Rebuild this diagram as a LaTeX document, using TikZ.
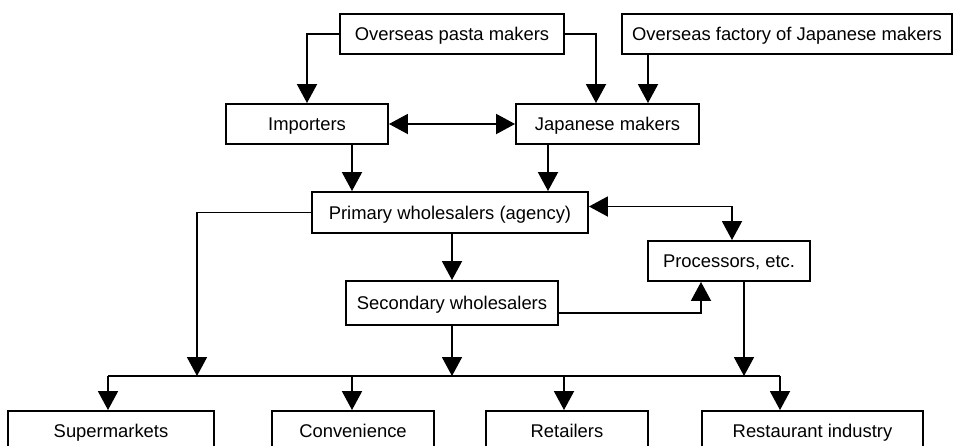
\documentclass[tikz,border=0pt]{standalone}
\usepackage{fontspec}
\setmainfont{Liberation Sans}
\usetikzlibrary{arrows.meta}
\tikzset{box/.style={draw, line width=1.9pt, minimum height=40pt, inner sep=0pt, text height=13.2pt, text depth=0pt, font=\fontsize{18.4}{22}\selectfont},
  arr/.style={line width=1.9pt, -{Triangle[width=20pt,length=19pt]}},
  darr/.style={line width=1.9pt, {Triangle[width=20pt,length=19pt]}-{Triangle[width=20pt,length=19pt]}}}
\begin{document}
\begin{tikzpicture}[x=1pt, y=-1pt]
        \useasboundingbox (0,0) rectangle (954,445);
        % boxes
        \node[box, minimum width=224pt] (pasta) at (452,34) {Overseas pasta makers};
        \node[box, minimum width=330pt] (fac) at (787,34) {Overseas factory of Japanese makers};
        \node[box, minimum width=162pt] (imp) at (307,124) {Importers};
        \node[box, minimum width=183pt] (jap) at (607.5,124) {Japanese makers};
        \node[box, minimum width=276pt, minimum height=41pt] (prim) at (450,212.5) {Primary wholesalers (agency)};
        \node[box, minimum width=162pt] (proc) at (729,261) {Processors, etc.};
        \node[box, minimum width=212pt, minimum height=44pt] (sec) at (452,303) {Secondary wholesalers};
        \node[box, minimum width=206pt] (sup) at (111,431) {Supermarkets};
        \node[box, minimum width=162pt] (conv) at (353,431) {Convenience};
        \node[box, minimum width=162pt] (ret) at (567,431) {Retailers};
        \node[box, minimum width=221pt] (rest) at (812.5,431) {Restaurant industry};
        % bus line above the outlets
        \coordinate (b1) at (108,376); \coordinate (b2) at (352,376); \coordinate (b3) at (564,376); \coordinate (b4) at (780,376);
        \coordinate (j1) at ([xshift=-11.5pt]jap.north); \coordinate (j2) at ([xshift=40.5pt]jap.north);
        \draw[line width=1.9pt] (b1)--(b4);
        % makers and importers
        \draw[arr] (pasta.west) -| (imp.north); \draw[arr] (pasta.east) -| (j1);
        \draw[arr] (fac.south -| j2) -- (j2);
        \draw[darr] (imp.east) -- (jap.west);
        \draw[arr] ([xshift=45pt]imp.south) -- ([xshift=45pt]imp.south |- prim.north);
        \draw[arr] ([xshift=-59.5pt]jap.south) -- ([xshift=-59.5pt]jap.south |- prim.north);
        % wholesalers and processors
        \draw[arr] (prim.west) -| (197,376);
        \draw[darr] ([yshift=6pt]prim.east) -| ([xshift=3pt]proc.north);
        \draw[arr] (prim.south -| sec.north) -- (sec.north);
        \draw[arr] ([yshift=-10pt]sec.east) -| ([xshift=-28pt]proc.south);
        \draw[arr] (sec.south) -- (sec.south |- b2);
        \draw[arr] ([xshift=15pt]proc.south) -- ([xshift=15pt]proc.south |- b4);
        % outlets
        \foreach \b/\n in {b1/sup, b2/conv, b3/ret, b4/rest} \draw[arr] (\b) -- (\b |- \n.north);
    \end{tikzpicture}
\end{document}
